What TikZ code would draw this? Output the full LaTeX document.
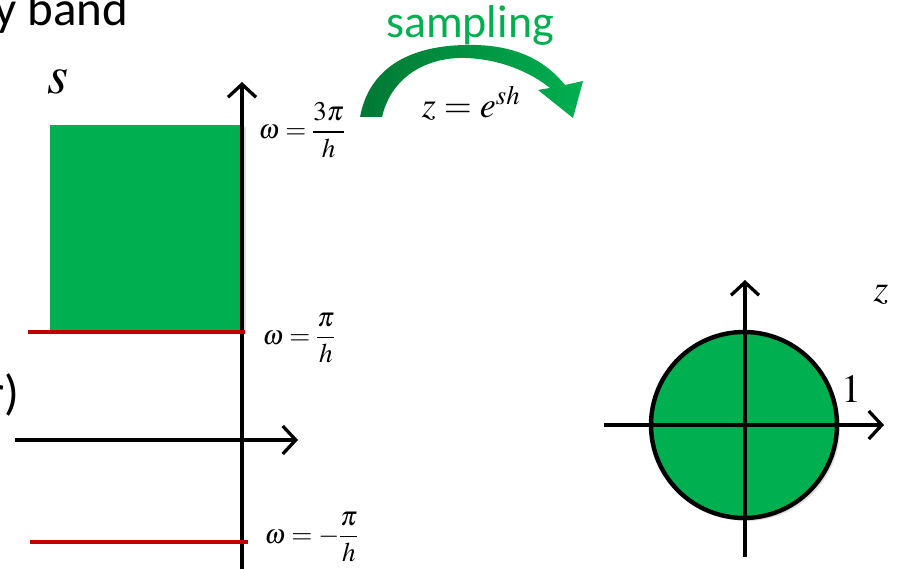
\documentclass[tikz,border=0pt]{standalone}
\usepackage{mathptmx}
\usepackage{fontspec}
\setmainfont{Liberation Serif}
\setsansfont{Carlito}
\usetikzlibrary{arrows.meta,shadows}
\definecolor{band}{RGB}{0,176,80}
\definecolor{bandd}{RGB}{0,120,52}
\definecolor{edge}{RGB}{192,0,0}

\begin{document}
\begin{tikzpicture}[x=1pt,y=1pt,
 axis/.style={line width=3.3pt,-{Straight Barb[length=13pt,width=28pt]}},
 lim/.style={draw=edge,line width=3.6pt},
 lab/.style={font=\fontsize{27}{30}\selectfont,anchor=west},
 word/.style={font=\sffamily\fontsize{49}{54}\selectfont}]
\useasboundingbox (0,0) rectangle (899,569);
% s-plane
\fill[band,drop shadow={opacity=.25,shadow xshift=2pt,shadow yshift=-2pt}] (50,237) rectangle (244,444);
\coordinate (xl) at (15,129);
\coordinate (xr) at (298,129);
\coordinate (yb) at (242,-5);
\coordinate (yt) at (242,487);
\draw[axis] (xl)--(xr);
\draw[axis] (yb)--(yt);
\draw[lim] (28,237)--(245,237);
\draw[lim] (30,27)--(248,27);
\node[lab] (w3) at (255,439) {$\displaystyle\omega=\frac{3\pi}{h}$};
\node[lab] (w1) at (259,231) {$\displaystyle\omega=\frac{\pi}{h}$};
\node[lab] (wm) at (261,32) {$\displaystyle\omega=-\frac{\pi}{h}$};
\node[font=\fontsize{54}{60}\selectfont] (s) at (58,487) {$s$};
\node[word,anchor=base east] (title) at (132,543) {y band};
\node[word,anchor=base east] (par) at (23,159) {r)};
% mapping arrow
\shade[left color=bandd,right color=band]
 (382,452) .. controls (392,495) and (430,512) .. (465,511)
 .. controls (500,510) and (530,497) .. (550,481) -- (538,479) -- (573,451)
 -- (583,488) -- (565,484)
 .. controls (540,515) and (505,525) .. (465,524)
 .. controls (415,523) and (370,505) .. (360,452) -- cycle;
\node[word,text=band,anchor=base,font=\sffamily\fontsize{46}{50}\selectfont] (samp) at (470,531) {sampling};
\node[font=\fontsize{36}{40}\selectfont] (map) at (471,466) {$z=e^{sh}$};
% z-plane
\fill[band,draw=black,line width=4.4pt,drop shadow={opacity=.25,shadow xshift=3pt,shadow yshift=-3pt}] (744,144) circle (93);
\coordinate (ul) at (604,144);
\coordinate (ur) at (884,144);
\coordinate (ub) at (745,12);
\coordinate (ut) at (745,289);
\draw[axis] (ul)--(ur);
\draw[axis] (ub)--(ut);
\node[font=\fontsize{38}{42}\selectfont] (z) at (881,274) {$z$};
\node[font=\fontsize{40}{44}\selectfont] (one) at (851,180) {$1$};
\end{tikzpicture}
\end{document}
